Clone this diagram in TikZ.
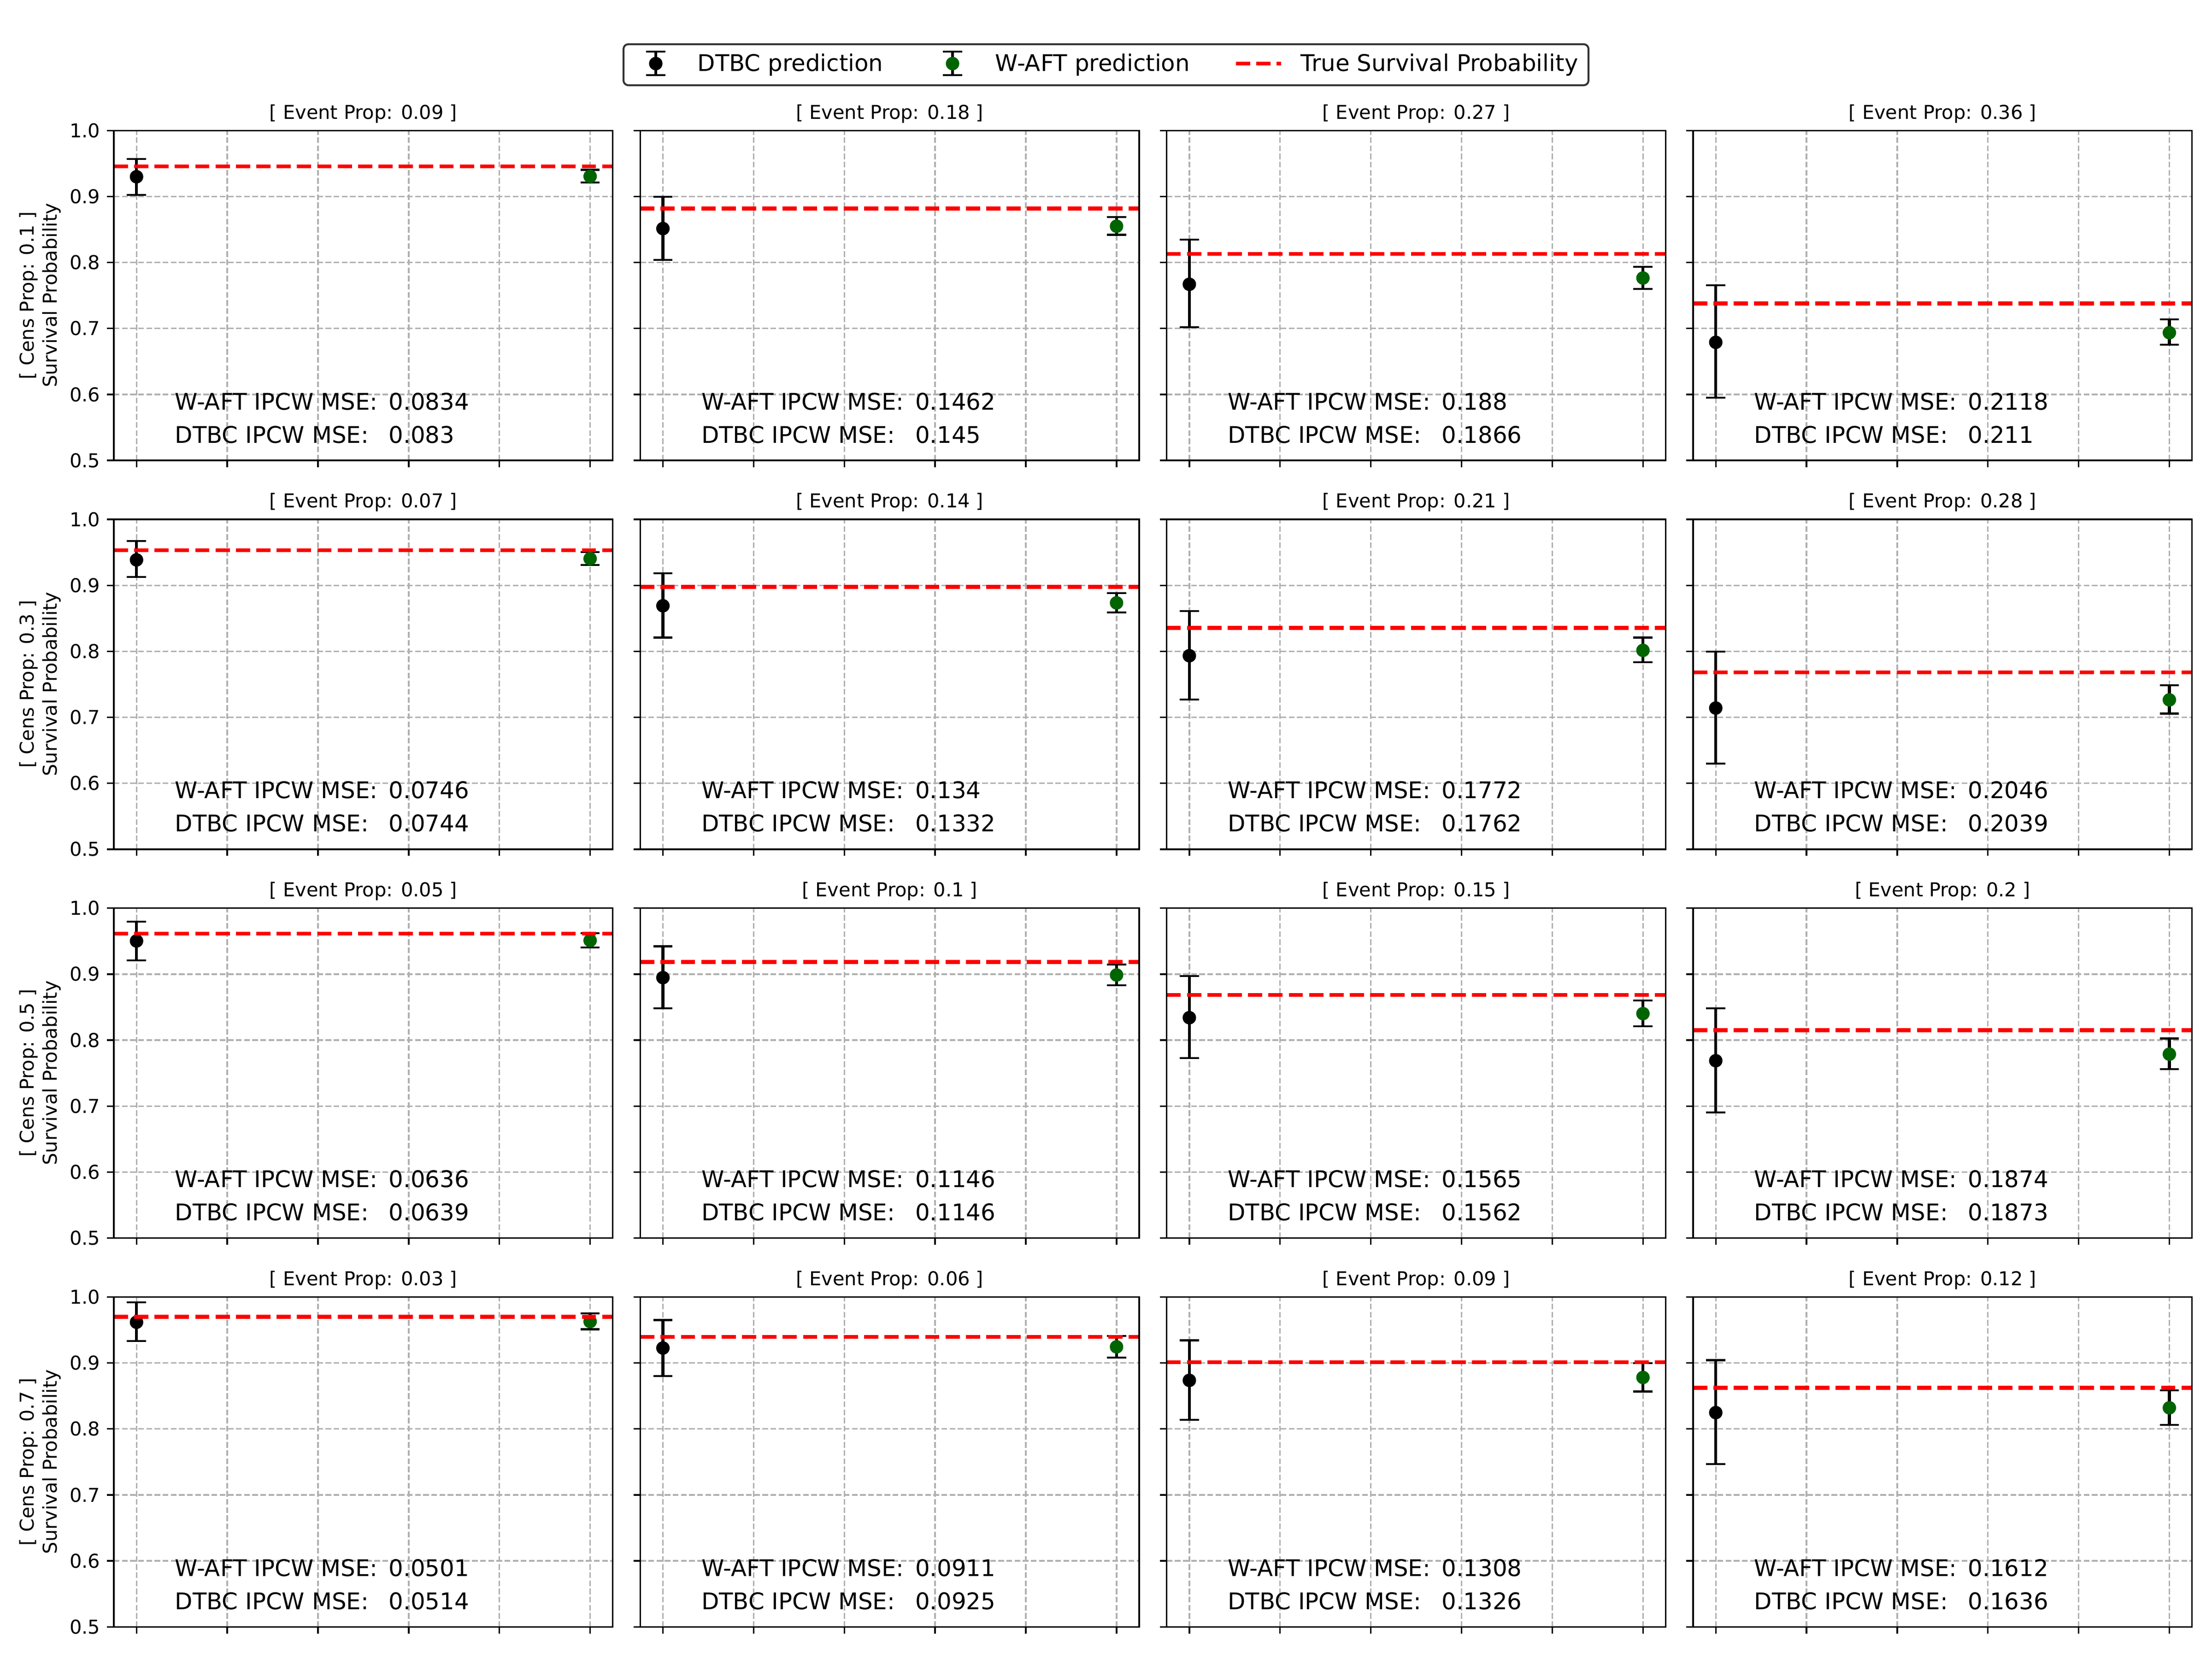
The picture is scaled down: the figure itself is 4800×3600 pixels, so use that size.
\documentclass[tikz,border=0pt]{standalone}
\usepackage{fontspec}
\setmainfont{DejaVu Sans}

\definecolor{gridgray}{HTML}{B0B0B0}
\definecolor{waftgreen}{HTML}{006400}
\definecolor{legendedge}{HTML}{333333}

\tikzset{
  spine/.style={line width=0.8bp, black},
  gridline/.style={line width=0.8bp, gridgray, dash pattern=on 2.96bp off 1.28bp},
  truthline/.style={line width=2bp, red, dash pattern=on 7.4bp off 3.2bp},
  errline/.style={line width=1.5bp, black},
  capline/.style={line width=1bp, black},
  ticklabel/.style={font=\fontsize{10}{12}\selectfont, anchor=east, inner sep=0pt},
  paneltitle/.style={font=\fontsize{10}{12}\selectfont, anchor=base, inner sep=0pt},
  msetext/.style={font=\fontsize{12}{14}\selectfont, anchor=base west, inner sep=0pt},
  rowlabel/.style={font=\fontsize{10}{12}\selectfont, rotate=90, align=center, inner sep=0pt},
  legendbox/.style={draw=legendedge, line width=1bp, rounded corners=2.5bp, fill=white},
  legendtext/.style={font=\fontsize{12}{14}\selectfont, anchor=base west, inner sep=0pt}
}

\begin{document}
\begin{tikzpicture}[x=0.0084667cm, y=-0.0084667cm]
  \useasboundingbox (0,0) rectangle (4800,3600);

  % panels: row/col/event/true/dtbc mid,lo,hi/waft mid,lo,hi/mse waft/mse dtbc
  \foreach \r/\c/\ev/\tru/\dm/\dl/\dh/\wm/\wl/\wh/\mw/\md in {
      0/0/0.09/0.9456/0.930/0.9025/0.957/0.9306/0.921/0.9405/0.0834/0.083,
      0/1/0.18/0.8817/0.8514/0.804/0.8996/0.855/0.842/0.869/0.1462/0.145,
      0/2/0.27/0.813/0.767/0.702/0.8346/0.7765/0.7597/0.7936/0.188/0.1866,
      0/3/0.36/0.738/0.679/0.5953/0.7655/0.6936/0.6753/0.7137/0.2118/0.211,
      1/0/0.07/0.953/0.9386/0.9126/0.967/0.9404/0.931/0.9506/0.0746/0.0744,
      1/1/0.14/0.8976/0.869/0.8208/0.9184/0.8734/0.8588/0.888/0.134/0.1332,
      1/2/0.21/0.8354/0.7933/0.7268/0.861/0.8014/0.7835/0.8208/0.1772/0.1762,
      1/3/0.28/0.7681/0.714/0.6298/0.7996/0.7264/0.7056/0.7487/0.2046/0.2039,
      2/0/0.05/0.9616/0.9503/0.921/0.9795/0.951/0.9407/0.9623/0.0636/0.0639,
      2/1/0.1/0.9184/0.8947/0.8482/0.9422/0.8987/0.8833/0.9148/0.1146/0.1146,
      2/2/0.15/0.8687/0.834/0.7725/0.8969/0.8402/0.8211/0.8603/0.1565/0.1562,
      2/3/0.2/0.815/0.7688/0.6906/0.8482/0.7787/0.756/0.8025/0.1874/0.1873,
      3/0/0.03/0.970/0.9617/0.9332/0.992/0.9627/0.951/0.9752/0.0501/0.0514,
      3/1/0.06/0.9394/0.9226/0.8802/0.965/0.9244/0.908/0.9412/0.0911/0.0925,
      3/2/0.09/0.901/0.8736/0.8137/0.9343/0.878/0.8568/0.9/0.1308/0.1326,
      3/3/0.12/0.8623/0.8247/0.7465/0.9043/0.832/0.8064/0.8583/0.1612/0.1636}
  {
    \pgfmathsetmacro{\panx}{247+1142.3*\c}
    \pgfmathsetmacro{\pany}{283+843.7*\r}
    \begin{scope}[xshift={(\panx+49.23)*0.0084667cm}, yshift={-(\pany+1432)*0.0084667cm},
                  x=1.66716cm, y=12.1243cm]
      % grid
      \foreach \i in {0,...,5}
        \draw[gridline] (\i,0.5) -- (\i,1.0);
      \foreach \v in {0.6,0.7,0.8,0.9}
        \draw[gridline] (-0.25,\v) -- (5.25,\v);

      % error bars
      \draw[errline] (0,\dl) -- (0,\dh);
      \draw[capline] ([xshift=-5bp]0,\dl) -- ([xshift=5bp]0,\dl);
      \draw[capline] ([xshift=-5bp]0,\dh) -- ([xshift=5bp]0,\dh);
      \fill[black] (0,\dm) circle[radius=3.5bp];
      \draw[errline] (5,\wl) -- (5,\wh);
      \draw[capline] ([xshift=-5bp]5,\wl) -- ([xshift=5bp]5,\wl);
      \draw[capline] ([xshift=-5bp]5,\wh) -- ([xshift=5bp]5,\wh);
      \fill[waftgreen] (5,\wm) circle[radius=3.5bp];

      % true survival
      \draw[truthline] (-0.25,\tru) -- (5.25,\tru);

      % frame and ticks
      \draw[spine] (-0.25,0.5) rectangle (5.25,1.0);
      \foreach \i in {0,...,5}
        \draw[spine] (\i,0.5) -- ++(0,-3.5bp);
      \foreach \v in {0.5,0.6,0.7,0.8,0.9,1.0}
        \draw[spine] (-0.25,\v) -- ++(-3.5bp,0);
      \ifnum\c=0
        \foreach \v in {0.5,0.6,0.7,0.8,0.9,1.0}
          \node[ticklabel] (tick-\r-\v) at ([xshift=-7bp]-0.25,\v) {\v};
      \fi

      % texts
      \node[paneltitle] (ttl-\r-\c) at (2.5,1.0175) {[ Event Prop: \ev\ ]};
      \node[msetext] (waftlbl-\r-\c) at (0.4204,0.5768) {W-AFT IPCW MSE:};
      \node[msetext] (waftval-\r-\c) at (2.777,0.5768) {\mw};
      \node[msetext] (dtbclbl-\r-\c) at (0.4204,0.5265) {DTBC IPCW MSE:};
      \node[msetext] (dtbcval-\r-\c) at (2.777,0.5265) {\md};
    \end{scope}
  }

  % row labels
  \foreach \r/\cens in {0/0.1,1/0.3,2/0.5,3/0.7}
    \node[rowlabel] (cens-\r) at (87,{283+843.7*\r+358}) {[ Cens Prop: \cens\ ]\\Survival Probability};

  % legend
  \draw[legendbox] (1353,96) rectangle (3447,185);
  \draw[errline] (1423,112) -- (1423,163);
  \draw[capline] (1402,112) -- (1444,112);
  \draw[capline] (1402,163) -- (1444,163);
  \fill[black] (1423,138) circle[radius=3.5bp];
  \node[legendtext] (leg-dtbc) at (1513,155) {DTBC prediction};
  \draw[errline] (2067,112) -- (2067,163);
  \draw[capline] (2046,112) -- (2088,112);
  \draw[capline] (2046,163) -- (2088,163);
  \fill[waftgreen] (2067,138) circle[radius=3.5bp];
  \node[legendtext] (leg-waft) at (2159,155) {W-AFT prediction};
  \draw[truthline] (2682,138) -- (2780,138);
  \node[legendtext] (leg-true) at (2822,155) {True Survival Probability};
\end{tikzpicture}
\end{document}
